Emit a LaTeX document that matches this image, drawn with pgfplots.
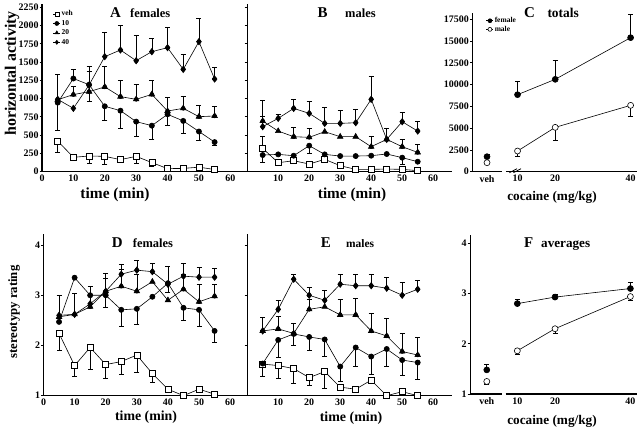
\documentclass[border=0pt]{standalone}
\usepackage{fontspec}
\setmainfont{Liberation Serif}
\usepackage{pgfplots}
\pgfplotsset{compat=1.18}
\pgfplotsset{
 panel/.style={scale only axis, clip=false, axis x line*=bottom, axis y line*=left,
   axis line style={line width=1.1bp,-}, tick align=outside, major tick length=2.5bp,
   tick style={line width=0.8bp, black}, xtick style={draw=none},
   scaled y ticks=false, scaled x ticks=false,
   tick label style={font=\bfseries\fontsize{10}{10}\selectfont},
   /pgf/number format/assume math mode=true, /pgf/number format/1000 sep={},
   yticklabel style={inner sep=0.8bp}, xticklabel style={inner sep=0.8bp},
   legend style={draw=none, fill=none, inner sep=0pt, outer sep=0pt, anchor=north west,
     font=\bfseries\fontsize{7.5}{7.5}\selectfont, column sep=1bp,
     nodes={inner sep=0pt, text height=5.5bp, text depth=2bp}},
   legend cell align=left,
   legend image code/.code={\draw[mark repeat=2,mark phase=2,##1] plot coordinates {(0bp,0bp) (3.5bp,0bp) (7bp,0bp)};},
   legend image post style={mark size=2bp},
 },
 lin/.style={black, line width=0.6bp},
 sveh/.style={lin, mark=square*, mark size=3bp, mark options={fill=white, solid, line width=0.6bp}},
 s10/.style={lin, mark=*, mark size=2.6bp, mark options={fill=black, solid}},
 s20/.style={lin, mark=triangle*, mark size=3.2bp, mark options={fill=black, solid}},
 s40/.style={lin, mark=diamond*, mark size=3.2bp, mark options={fill=black, solid}},
 sfem/.style={lin, mark=*, mark size=3bp, mark options={fill=black, solid}},
 smal/.style={lin, mark=*, mark size=3bp, mark options={fill=white, solid}},
 ebp/.style={forget plot, only marks, mark=none, error bars/y dir=plus, error bars/y explicit,
   error bars/error bar style={black, line width=0.6bp},
   error bars/error mark options={rotate=90, black, mark size=2.5bp, line width=0.6bp}},
 ebm/.style={forget plot, only marks, mark=none, error bars/y dir=minus, error bars/y explicit,
   error bars/error bar style={black, line width=0.6bp},
   error bars/error mark options={rotate=90, black, mark size=2.5bp, line width=0.6bp}},
}
\begin{document}
\begin{tikzpicture}
\path[use as bounding box] (0,0) rectangle (637bp,431bp);
% ---------- A ----------
\begin{axis}[panel, at={(42bp,259.3bp)}, anchor=south west, width=204bp, height=168.1bp,
  xmin=0, xmax=65, ymin=0, ymax=2300, xtick={0,10,...,60}, ytick={0,250,...,2250},
  legend style={at={(0.054,0.96)}, row sep=1.9bp}]
\addplot[ebm] coordinates {(5,420)+-(0,160) (15,215)+-(0,105) (20,210)+-(0,105) (30,210)+-(0,95) (35,125)+-(0,50)};
\addplot[ebm] coordinates {(5,945)+-(0,375) (15,1190)+-(0,220) (20,895)+-(0,195) (25,835)+-(0,235) (30,685)+-(0,195) (35,630)+-(0,180) (40,785)+-(0,155) (45,695)+-(0,165) (50,550)+-(0,120) (55,405)+-(0,45)};
\addplot[ebp] coordinates {(10,1275)+-(0,125)};
\addplot[ebp] coordinates {(10,1055)+-(0,115) (15,1095)+-(0,285) (20,1160)+-(0,280) (25,1027)+-(0,227) (30,990)+-(0,205) (35,1058)+-(0,196) (40,830)+-(0,187) (45,867)+-(0,168) (50,753)+-(0,159) (55,762)+-(0,128)};
\addplot[ebp] coordinates {(5,990)+-(0,345) (15,1186)+-(0,255) (20,1574)+-(0,333) (25,1665)+-(0,342) (30,1519)+-(0,342) (35,1642)+-(0,183) (40,1697)+-(0,274) (45,1400)+-(0,206) (50,1779)+-(0,320) (55,1268)+-(0,160)};
\addplot[sveh] coordinates {(5,420)(10,197)(15,215)(20,210)(25,165)(30,210)(35,125)(40,42)(45,45)(50,62)(55,30)};
\addplot[s10] coordinates {(5,945)(10,1275)(15,1190)(20,895)(25,835)(30,685)(35,630)(40,785)(45,695)(50,550)(55,405)};
\addplot[s20] coordinates {(5,985)(10,1055)(15,1095)(20,1160)(25,1027)(30,990)(35,1058)(40,830)(45,867)(50,753)(55,762)};
\addplot[s40] coordinates {(5,990)(10,867)(15,1186)(20,1574)(25,1665)(30,1519)(35,1642)(40,1697)(45,1400)(50,1779)(55,1268)};
\legend{veh,10,20,40}
\end{axis}
% ---------- B ----------
\begin{axis}[panel, at={(247.2bp,259.3bp)}, anchor=south west, width=204.6bp, height=168.1bp,
  xmin=0, xmax=66, ymin=0, ymax=2300, xtick={10,20,...,60}, ytick={0,250,...,2250}, yticklabels={}]
\addplot[ebp] coordinates {(5,319)+-(0,160)};
\addplot[ebm] coordinates {(5,228)+-(0,105) (20,356)+-(0,100) (50,192)+-(0,90)};
\addplot[ebp] coordinates {(5,693)+-(0,60) (15,479)+-(0,127) (20,470)+-(0,123) (40,342)+-(0,137) (45,442)+-(0,151) (50,342)+-(0,100) (55,264)+-(0,110)};
\addplot[ebp] coordinates {(5,616)+-(0,364) (10,730)+-(0,60) (15,866)+-(0,124) (20,798)+-(0,160) (25,661)+-(0,219) (30,661)+-(0,183) (35,670)+-(0,183) (40,990)+-(0,310) (50,684)+-(0,123) (55,556)+-(0,128)};
\addplot[sveh] coordinates {(5,319)(10,123)(15,150)(20,105)(25,169)(30,82)(35,32)(40,32)(45,36)(50,32)(55,14)};
\addplot[s10] coordinates {(5,228)(10,237)(15,219)(20,356)(25,237)(30,214)(35,214)(40,219)(45,242)(50,192)(55,137)};
\addplot[s20] coordinates {(5,693)(10,556)(15,479)(20,470)(25,547)(30,479)(35,479)(40,342)(45,442)(50,342)(55,264)};
\addplot[s40] coordinates {(5,616)(10,730)(15,866)(20,798)(25,661)(30,661)(35,670)(40,990)(45,442)(50,684)(55,556)};
\end{axis}
% ---------- C ----------
\begin{axis}[panel, at={(472.3bp,259.3bp)}, anchor=south west, width=164.9bp, height=158.5bp,
  xmin=-2, xmax=41.75, ymin=0, ymax=18200, xtick={1.9,10,20,40}, xticklabels={veh,10,20,40},
  ytick={0,2500,...,17500}, x axis line style={draw=none},
  legend style={at={(0.084,0.976)}, row sep=1.1bp}]
\addplot[ebp] coordinates {(1.9,1723)+-(0,267) (10,8844)+-(0,1569) (20,10605)+-(0,2144) (40,15390)+-(0,2680)};
\addplot[ebm] coordinates {(10,2374)+-(0,651) (20,5092)+-(0,1532) (40,7619)+-(0,1302)};
\addplot[sfem] coordinates {(10,8844)(20,10605)(40,15390)};
\addplot[smal] coordinates {(10,2374)(20,5092)(40,7619)};
\addplot[sfem, only marks, forget plot] coordinates {(1.9,1723)};
\addplot[smal, only marks, forget plot] coordinates {(1.9,1034)};
\legend{female,male}
\draw[line width=1.1bp] (axis cs:-2,0) -- (axis cs:5.86,0);
\draw[line width=1.1bp] (axis cs:6.92,0) -- (axis cs:41.75,0);
\draw[line width=0.8bp] (axis cs:5.86,0) ++(0,-1bp) -- ++(0,4bp);
\draw[line width=0.8bp] (axis cs:6.92,0) ++(0,-1bp) -- ++(0,4bp);
\end{axis}
% ---------- D ----------
\begin{axis}[panel, at={(43.5bp,35.3bp)}, anchor=south west, width=202.2bp, height=162.2bp,
  xmin=0, xmax=65, ymin=1, ymax=4.23, xtick={0,10,...,60}, ytick={1,2,3,4}]
\addplot[ebm] coordinates {(5,2.24)+-(0,0.33) (10,1.60)+-(0,0.21) (15,1.96)+-(0,0.44) (20,1.62)+-(0,0.27) (25,1.68)+-(0,0.25) (30,1.81)+-(0,0.35) (35,1.44)+-(0,0.17)};
\addplot[ebm] coordinates {(20,3.0)+-(0,0.24) (25,2.71)+-(0,0.32) (30,2.73)+-(0,0.31) (40,3.24)+-(0,0.18) (45,2.75)+-(0,0.25) (50,2.71)+-(0,0.32) (55,2.29)+-(0,0.23)};
\addplot[ebp] coordinates {(5,2.57)+-(0,0.42) (10,2.62)+-(0,0.42) (15,2.77)+-(0,0.4) (20,3.08)+-(0,0.25) (25,3.18)+-(0,0.33) (30,3.08)+-(0,0.34) (45,3.12)+-(0,0.3) (50,2.87)+-(0,0.35) (55,2.98)+-(0,0.24)};
\addplot[ebp] coordinates {(20,3.08)+-(0,0.35) (25,3.42)+-(0,0.2) (30,3.50)+-(0,0.19) (35,3.47)+-(0,0.16) (40,3.22)+-(0,0.35) (45,3.38)+-(0,0.25) (50,3.36)+-(0,0.19) (55,3.36)+-(0,0.17)};
\addplot[sveh] coordinates {(5,2.24)(10,1.60)(15,1.96)(20,1.62)(25,1.68)(30,1.81)(35,1.44)(40,1.13)(45,1.0)(50,1.13)(55,1.03)};
\addplot[s10] coordinates {(5,2.47)(10,3.35)(15,3.0)(20,3.0)(25,2.71)(30,2.73)(35,2.97)(40,3.24)(45,2.75)(50,2.71)(55,2.29)};
\addplot[s20] coordinates {(5,2.57)(10,2.62)(15,2.77)(20,3.08)(25,3.18)(30,3.08)(35,3.27)(40,2.9)(45,3.12)(50,2.87)(55,2.98)};
\addplot[s40] coordinates {(5,2.6)(10,2.62)(15,2.83)(20,3.08)(25,3.42)(30,3.50)(35,3.47)(40,3.22)(45,3.38)(50,3.36)(55,3.36)};
\end{axis}
% ---------- E ----------
\begin{axis}[panel, at={(247.2bp,35.3bp)}, anchor=south west, width=204.6bp, height=162.2bp,
  xmin=0, xmax=66, ymin=1, ymax=4.23, xtick={10,20,...,60}, ytick={1,2,3,4}, yticklabels={}]
\addplot[ebm] coordinates {(5,1.63)+-(0,0.25) (10,1.60)+-(0,0.25) (15,1.54)+-(0,0.29) (20,1.36)+-(0,0.15) (25,1.48)+-(0,0.33)};
\addplot[ebm] coordinates {(10,2.11)+-(0,0.35) (15,2.23)+-(0,0.23) (20,2.17)+-(0,0.26) (25,2.12)+-(0,0.33) (30,1.58)+-(0,0.29) (35,1.96)+-(0,0.38) (40,1.78)+-(0,0.35) (45,1.93)+-(0,0.35) (50,1.71)+-(0,0.31) (55,1.66)+-(0,0.33)};
\addplot[ebp] coordinates {(10,2.33)+-(0,0.26) (15,2.24)+-(0,0.2) (20,2.72)+-(0,0.2) (30,2.61)+-(0,0.31) (35,2.61)+-(0,0.32) (40,2.29)+-(0,0.36) (45,2.19)+-(0,0.35) (50,1.88)+-(0,0.36) (55,1.81)+-(0,0.36)};
\addplot[ebp] coordinates {(5,2.29)+-(0,0.28) (10,2.72)+-(0,0.18) (15,3.32)+-(0,0.1) (20,3.0)+-(0,0.16) (25,2.90)+-(0,0.19) (30,3.22)+-(0,0.2) (35,3.19)+-(0,0.23) (40,3.19)+-(0,0.23) (45,3.14)+-(0,0.22) (50,3.0)+-(0,0.26) (55,3.12)+-(0,0.18)};
\addplot[sveh] coordinates {(5,1.63)(10,1.60)(15,1.54)(20,1.36)(25,1.48)(30,1.17)(35,1.13)(40,1.31)(45,1.0)(50,1.08)(55,1.0)};
\addplot[s10] coordinates {(5,1.64)(10,2.11)(15,2.23)(20,2.17)(25,2.12)(30,1.58)(35,1.96)(40,1.78)(45,1.93)(50,1.71)(55,1.66)};
\addplot[s20] coordinates {(5,2.29)(10,2.33)(15,2.24)(20,2.72)(25,2.77)(30,2.61)(35,2.61)(40,2.29)(45,2.19)(50,1.88)(55,1.81)};
\addplot[s40] coordinates {(5,2.29)(10,2.72)(15,3.32)(20,3.0)(25,2.90)(30,3.22)(35,3.19)(40,3.19)(45,3.14)(50,3.0)(55,3.12)};
\end{axis}
% ---------- F ----------
\begin{axis}[panel, at={(470.2bp,37bp)}, anchor=south west, width=166.8bp, height=159.2bp,
  xmin=-2.5, xmax=41.75, ymin=1, ymax=4.17, xtick={1.9,10,20,40}, xticklabels={veh,10,20,40},
  ytick={1,2,3,4}, x axis line style={draw=none}]
\addplot[ebp] coordinates {(1.9,1.48)+-(0,0.11) (10,2.80)+-(0,0.08) (20,2.93)+-(0,0.06) (40,3.10)+-(0,0.12)};
\addplot[ebm] coordinates {(1.9,1.25)+-(0,0.05) (10,1.86)+-(0,0.07) (20,2.30)+-(0,0.09) (40,2.94)+-(0,0.08)};
\addplot[sfem] coordinates {(10,2.80)(20,2.93)(40,3.10)};
\addplot[smal] coordinates {(10,1.86)(20,2.30)(40,2.94)};
\addplot[sfem, only marks, forget plot] coordinates {(1.9,1.48)};
\addplot[smal, only marks, forget plot] coordinates {(1.9,1.25)};
\draw[line width=1.1bp] (axis cs:-2.5,1) -- (axis cs:5.86,1);
\draw[line width=1.1bp] (axis cs:6.92,1) -- (axis cs:41.75,1);
\draw[line width=0.8bp] (axis cs:5.86,1) ++(0,-1bp) -- ++(0,4bp);
\draw[line width=0.8bp] (axis cs:6.92,1) ++(0,-1bp) -- ++(0,4bp);
\end{axis}
% ---------- texts ----------
\tikzset{lab/.style={font=\bfseries\fontsize{#1}{#1}\selectfont, inner sep=0pt}}
\node[lab=16, rotate=90] at (12bp,357.5bp) {horizontal activity};
\node[lab=12.8, rotate=90] at (14bp,119bp) {stereotypy rating};
\node[lab=15.5] at (115bp,236bp) {time (min)};
\node[lab=15.3] at (352bp,236bp) {time (min)};
\node[lab=13.3] at (552bp,234bp) {cocaine (mg/kg)};
\node[lab=13.9] at (146bp,14bp) {time (min)};
\node[lab=14] at (351bp,13bp) {time (min)};
\node[lab=13.3] at (552bp,9.5bp) {cocaine (mg/kg)};
\node[lab=15, anchor=base west] at (110bp,413.7bp) {A};
\node[lab=12.5, anchor=base west] at (130bp,413.7bp) {females};
\node[lab=15, anchor=base west] at (317.3bp,413.7bp) {B};
\node[lab=12.5, anchor=base west] at (345bp,413.7bp) {males};
\node[lab=15, anchor=base west] at (524bp,413.7bp) {C};
\node[lab=13.5, anchor=base west] at (547.3bp,413.7bp) {totals};
\node[lab=15, anchor=base west] at (111.7bp,183.3bp) {D};
\node[lab=12.5, anchor=base west] at (132.7bp,183.3bp) {females};
\node[lab=15, anchor=base west] at (320.7bp,183.3bp) {E};
\node[lab=11.5, anchor=base west] at (346bp,183.3bp) {males};
\node[lab=15, anchor=base west] at (524bp,183.3bp) {F};
\node[lab=13.2, anchor=base west] at (541bp,183.3bp) {averages};
\end{tikzpicture}
\end{document}
